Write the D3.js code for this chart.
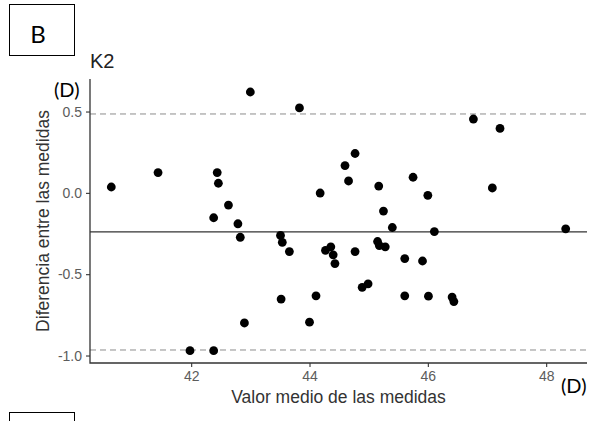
<!DOCTYPE html>
<html>
<head>
<meta charset="utf-8">
<script src="https://cdn.jsdelivr.net/npm/d3@7"></script>
<style>
  body { margin: 0; background: white; }
  svg { display: block; }
</style>
</head>
<body>
<svg width="596" height="421"></svg>
<script>
// Bland-Altman K2: mean of the two measures vs their difference
let meanVals = [40.65, 41.44, 42.44, 42.46, 42.63, 42.38, 42.79, 42.83, 42.90, 41.98,
    42.38, 43.00, 43.83, 44.77, 44.60, 44.66, 44.18, 45.17, 45.75, 45.25,
    46.77, 47.22, 47.09, 46.00, 46.11, 48.33, 45.91, 46.01, 46.41, 46.44,
    43.51, 43.54, 43.66, 45.40, 44.27, 44.36, 44.40, 44.43, 44.77, 45.15,
    45.18, 45.28, 45.61, 44.89, 44.99, 43.52, 44.11, 44.00, 45.61]
let diffVals = [0.036, 0.125, 0.125, 0.059, -0.075, -0.153, -0.19, -0.273, -0.80, -0.97,
    -0.97, 0.62, 0.522, 0.242, 0.168, 0.073, -0.001, 0.042, 0.096, -0.112,
    0.454, 0.396, 0.030, -0.015, -0.238, -0.221, -0.419, -0.635, -0.641, -0.668,
    -0.262, -0.304, -0.361, -0.213, -0.353, -0.332, -0.381, -0.435, -0.361, -0.299,
    -0.324, -0.332, -0.404, -0.581, -0.559, -0.653, -0.633, -0.795, -0.633]
let meanDiff = -0.24
let limits = [0.485, -0.966]
let xTicks = [42, 44, 46, 48]
let yTicks = [-1.0, -0.5, 0.0, 0.5]

let width = 596;
let height = 421;
let margin = { top: 79, right: 9, bottom: 58, left: 90 };

let svg = d3.select("svg")

let data = meanVals.map((m, i) => ({ mean: m, diff: diffVals[i] }))

let x = d3.scaleLinear()
    .domain([40.29, 48.69])
    .range([margin.left, width - margin.right])

let y = d3.scaleLinear()
    .domain([-1.046, 0.70])
    .range([height - margin.bottom, margin.top])

let fmt = d => d3.format(".1f")(d).replace("−", "-")

// reference lines
svg.selectAll(".limit")
    .data(limits)
    .join("line")
    .attr("class", "limit")
    .attr("x1", margin.left)
    .attr("x2", width - margin.right)
    .attr("y1", d => y(d))
    .attr("y2", d => y(d))
    .style("stroke", "#8c8c8c")
    .style("stroke-width", 1)
    .style("stroke-dasharray", "6,4")

svg.append("line")
    .attr("x1", margin.left)
    .attr("x2", width - margin.right)
    .attr("y1", y(meanDiff))
    .attr("y2", y(meanDiff))
    .style("stroke", "#333333")
    .style("stroke-width", 1.2)

// axes
let xAxis = svg.append("g")
    .attr("transform", `translate(0,${height - margin.bottom})`)
    .call(d3.axisBottom(x).tickValues(xTicks).tickSize(4).tickPadding(4).tickFormat(d3.format("d")))

let yAxis = svg.append("g")
    .attr("transform", `translate(${margin.left},0)`)
    .call(d3.axisLeft(y).tickValues(yTicks).tickSize(4).tickPadding(4).tickFormat(fmt))

svg.selectAll(".domain")
    .style("display", "none")

svg.append("path")
    .attr("d", `M${margin.left},${margin.top}V${height - margin.bottom}H${width - margin.right}`)
    .style("fill", "none")
    .style("stroke", "#333333")
    .style("stroke-width", 1.3)

svg.selectAll(".tick line")
    .style("stroke", "#333333")
    .style("stroke-width", 1.1)

svg.selectAll(".tick text")
    .style("font-family", "Liberation Sans, Arial, sans-serif")
    .style("font-size", "14px")
    .style("fill", "#5c5c5c")

// points
svg.selectAll(".pt")
    .data(data)
    .join("circle")
    .attr("class", "pt")
    .attr("cx", d => x(d.mean))
    .attr("cy", d => y(d.diff))
    .attr("r", 4.4)
    .style("fill", "black")

// axis titles
svg.append("text")
    .attr("x", (margin.left + width - margin.right) / 2)
    .attr("y", 403)
    .attr("text-anchor", "middle")
    .style("font-family", "Liberation Sans, Arial, sans-serif")
    .style("font-size", "17.5px")
    .style("fill", "#333333")
    .text("Valor medio de las medidas")

svg.append("text")
    .attr("transform", `translate(49,${(margin.top + height - margin.bottom) / 2}) rotate(-90)`)
    .attr("text-anchor", "middle")
    .style("font-family", "Liberation Sans, Arial, sans-serif")
    .style("font-size", "17.5px")
    .style("fill", "#333333")
    .text("Diferencia entre las medidas")

svg.append("text")
    .attr("x", 90)
    .attr("y", 68)
    .style("font-family", "Liberation Sans, Arial, sans-serif")
    .style("font-size", "20px")
    .style("fill", "#222222")
    .text("K2")

// panel labels
svg.append("rect")
    .attr("x", 9.5).attr("y", 4.5)
    .attr("width", 65).attr("height", 51)
    .style("fill", "none").style("stroke", "black").style("stroke-width", 1)

svg.append("text")
    .attr("x", 38).attr("y", 43)
    .attr("text-anchor", "middle")
    .style("font-family", "Lato, sans-serif")
    .style("font-size", "24px")
    .text("B")

svg.append("rect")
    .attr("x", 9.5).attr("y", 412.5)
    .attr("width", 65).attr("height", 40)
    .style("fill", "none").style("stroke", "black").style("stroke-width", 1)

svg.append("text")
    .attr("x", 54).attr("y", 97)
    .style("font-family", "Lato, sans-serif")
    .style("font-size", "20px")
    .text("(D)")

svg.append("text")
    .attr("x", 561).attr("y", 393)
    .style("font-family", "Lato, sans-serif")
    .style("font-size", "20px")
    .text("(D)")
</script>
</body>
</html>
